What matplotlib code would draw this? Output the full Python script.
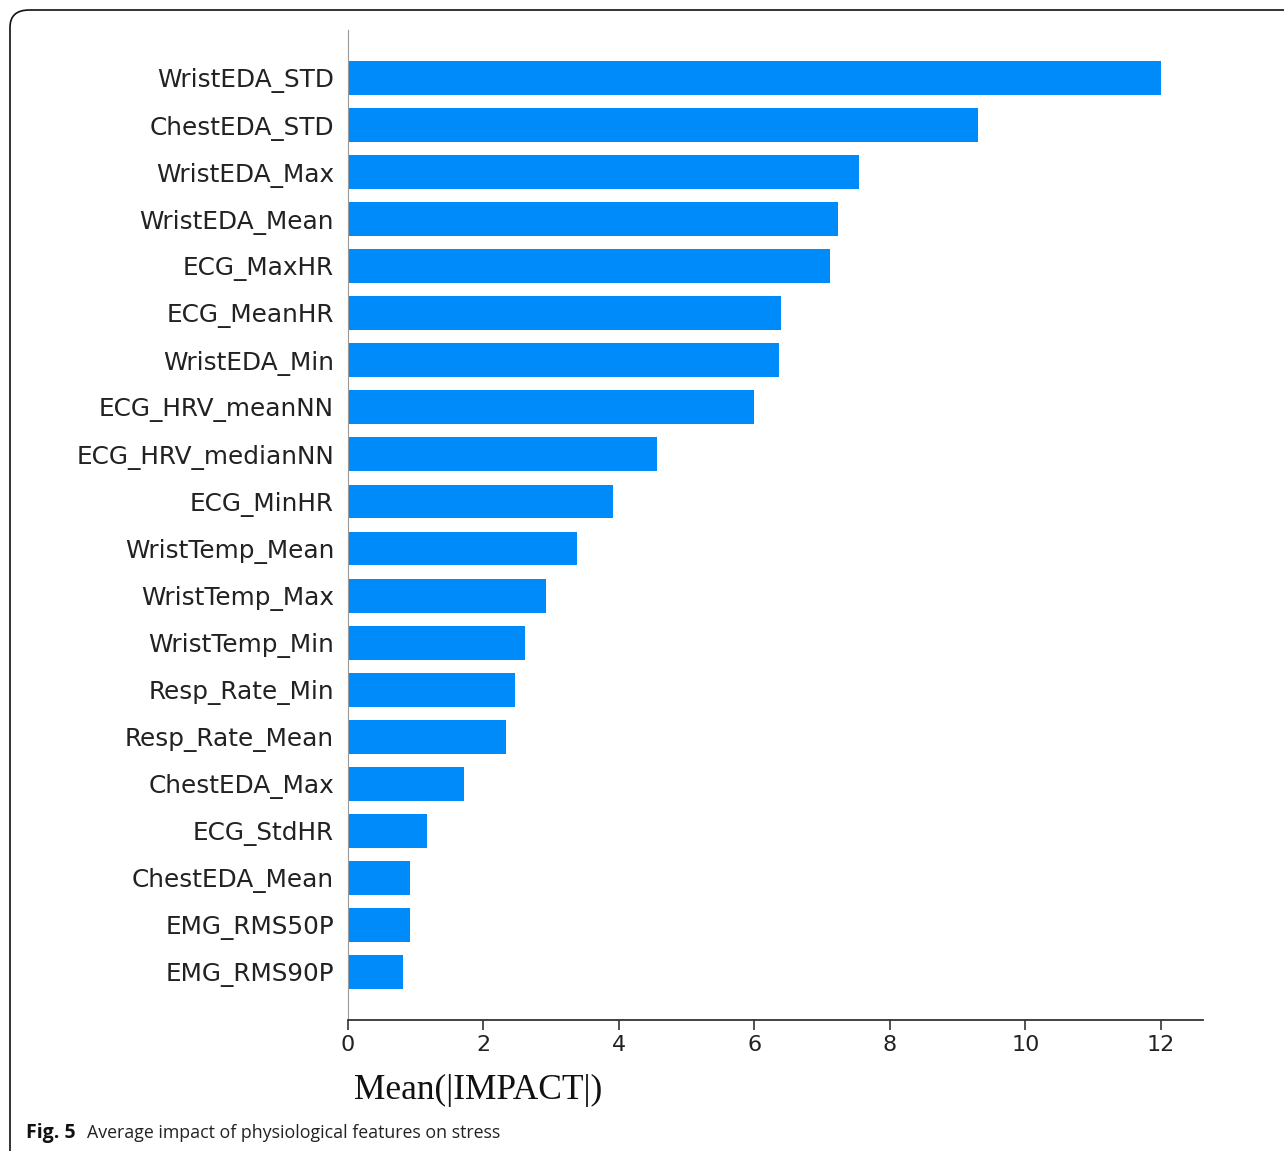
"""Mean |impact| per physiological feature (SHAP-style bar chart)."""
import matplotlib
matplotlib.use("Agg")
import matplotlib.pyplot as plt
from matplotlib.patches import FancyBboxPatch

features = [
    "WristEDA_STD", "ChestEDA_STD", "WristEDA_Max", "WristEDA_Mean", "ECG_MaxHR",
    "ECG_MeanHR", "WristEDA_Min", "ECG_HRV_meanNN", "ECG_HRV_medianNN", "ECG_MinHR",
    "WristTemp_Mean", "WristTemp_Max", "WristTemp_Min", "Resp_Rate_Min", "Resp_Rate_Mean",
    "ChestEDA_Max", "ECG_StdHR", "ChestEDA_Mean", "EMG_RMS50P", "EMG_RMS90P",
]
impact = [
    12.0, 9.30, 7.54, 7.23, 7.11,
    6.39, 6.36, 5.99, 4.56, 3.91,
    3.38, 2.92, 2.61, 2.46, 2.33,
    1.71, 1.17, 0.92, 0.92, 0.81,
]
xticks = [0, 2, 4, 6, 8, 10, 12]

BLUE = "#008bfb"

fig = plt.figure(figsize=(12.84, 11.51), dpi=100)
ax = fig.add_axes([348 / 1284, 1 - 1020 / 1151, 855 / 1284, 990 / 1151])

ypos = list(range(len(features)))[::-1]
ax.barh(ypos, impact, height=0.72, color=BLUE, edgecolor="none")
ax.set_yticks(ypos)
ax.set_yticklabels(features, fontsize=17.8, color="#222222", family="DejaVu Sans")
ax.tick_params(axis="y", length=0, pad=10)
ax.set_xticks(xticks)
ax.set_xticklabels([str(t) for t in xticks], fontsize=16, color="#222222",
                   family="DejaVu Sans")
ax.tick_params(axis="x", length=7, width=1.2, color="#333333", pad=4)
ax.set_xlim(0, 12.62)
ax.set_ylim(-1.02, len(features) - 1 + 1.02)

for side in ("top", "right"):
    ax.spines[side].set_visible(False)
ax.spines["left"].set_color("#999999")
ax.spines["bottom"].set_color("#333333")
ax.spines["bottom"].set_linewidth(1.3)

fig.text(354 / 1284, 1 - 1090 / 1151, "Mean(|IMPACT|)", family="Liberation Serif",
         fontsize=25.5, color="#111111", ha="left", va="center")

# caption
fig.text(26 / 1284, 1 - 1133 / 1151, "Fig. 5", family="Open Sans", weight="bold",
         fontsize=14, color="#111111", ha="left", va="center")
fig.text(87 / 1284, 1 - 1133 / 1151, "Average impact of physiological features on stress",
         family="Open Sans", fontsize=12.8, color="#222222", ha="left", va="center")

# rounded frame around the figure
frame = FancyBboxPatch((10 / 1284, -0.2), 1.2, 1.2 - 10 / 1151,
                       boxstyle="round,pad=0,rounding_size=0.015",
                       transform=fig.transFigure, facecolor="none",
                       edgecolor="#111111", linewidth=1.2, clip_on=False)
fig.patches.append(frame)

fig.savefig("out.png", dpi=100)
